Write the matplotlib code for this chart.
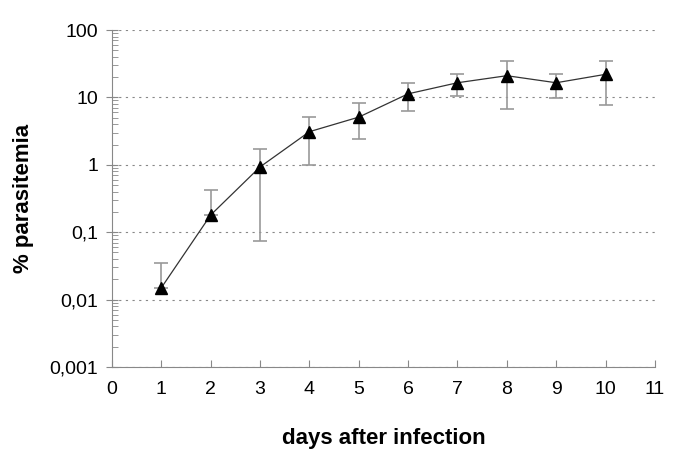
import matplotlib
matplotlib.use("Agg")
import matplotlib.pyplot as plt
import numpy as np
from matplotlib.ticker import LogLocator, NullFormatter

plt.rcParams['font.family'] = ['Liberation Sans', 'DejaVu Sans']

# data
days = [1, 2, 3, 4, 5, 6, 7, 8, 9, 10]
parasitemia = [0.015, 0.18, 0.93, 3.1, 5.1, 11.3, 16.5, 21, 16.5, 22]
upper = [0.035, 0.43, 1.7, 5.2, 8.2, 16.3, 22.5, 35, 22.5, 35]
lower = [0.015, 0.18, 0.073, 1.0, 2.4, 6.3, 10.5, 6.8, 9.8, 7.7]

ytick_vals = [0.001, 0.01, 0.1, 1, 10, 100]
ytick_labels = ["0,001", "0,01", "0,1", "1", "10", "100"]

y = np.array(parasitemia)
yerr = [y - np.array(lower), np.array(upper) - y]

fig = plt.figure(figsize=(6.85, 4.69), dpi=100)
ax = fig.add_axes([0.1635, 0.2175, 0.7925, 0.7185])

ax.errorbar(days, y, yerr=yerr, fmt='none', ecolor='#999999', elinewidth=1.2,
            capsize=5, capthick=1.2, zorder=2)
ax.plot(days, y, color='#333333', lw=0.9, marker='^', ms=9,
        mfc='black', mec='black', zorder=3)

ax.set_yscale('log')
ax.set_ylim(0.001, 100)
ax.set_xlim(0, 11)
ax.set_xticks(range(0, 12))
ax.set_yticks(ytick_vals)
ax.set_yticklabels(ytick_labels)
ax.yaxis.set_minor_locator(LogLocator(base=10, subs=np.arange(2, 10), numticks=20))
ax.yaxis.set_minor_formatter(NullFormatter())

ax.grid(axis='y', which='major', color='#888888', linestyle=(0, (2, 4)), lw=0.8)
for s in ['top', 'right']:
    ax.spines[s].set_visible(False)
for s in ['left', 'bottom']:
    ax.spines[s].set_color('#888888')

ax.tick_params(axis='y', which='major', direction='inout', length=8, color='#888888',
               labelsize=14, pad=6)
ax.tick_params(axis='y', which='minor', direction='in', length=4, color='#888888')
ax.tick_params(axis='x', direction='in', length=5, color='#888888', labelsize=14, pad=10)

ax.set_xlabel('days after infection', fontsize=16, fontweight='bold', labelpad=22)
ax.set_ylabel('% parasitemia', fontsize=16, fontweight='bold', labelpad=11)

fig.savefig('out.png', dpi=100)
